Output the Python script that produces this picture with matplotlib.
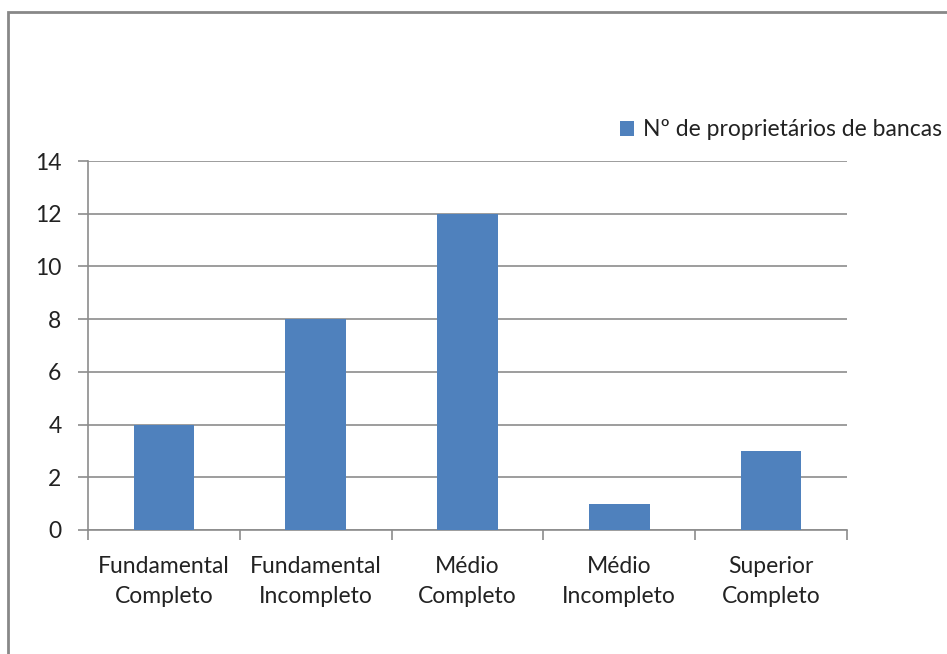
import numpy as np
import matplotlib.pyplot as plt
from matplotlib.patches import Rectangle

# --- Escolaridade dos proprietários de bancas ---

categorias = ["Fundamental\nCompleto", "Fundamental\nIncompleto", "Médio\nCompleto",
              "Médio\nIncompleto", "Superior\nCompleto"]
valores = [4, 8, 12, 1, 3]
serie = "Nº de proprietários de bancas"
y_ticks = [0, 2, 4, 6, 8, 10, 12, 14]

plt.rcParams['font.family'] = ['Lato', 'DejaVu Sans']
cinza = "#8c8c8c"
azul = "#4f81bd"
fs = 16.5

fig = plt.figure(figsize=(9.47, 6.54), dpi=100)
ax = fig.add_axes([88/947, 1 - 530/654, (847 - 88)/947, (530 - 161)/654])

x = np.arange(len(categorias))
ax.bar(x, valores, width=0.4, color=azul, label=serie, zorder=3)

ax.set_xlim(-0.5, len(categorias) - 0.5)
ax.set_ylim(0, 14)
ax.set_yticks(y_ticks)
ax.set_yticklabels([str(v) for v in y_ticks], fontsize=fs, color="#222222")
ax.set_xticks(x)
ax.set_xticklabels(categorias, fontsize=fs, linespacing=1.5, color="#222222")
ax.set_xticks(np.arange(-0.5, len(categorias)), minor=True)
ax.tick_params(axis='x', which='major', length=0, pad=19)
ax.tick_params(axis='x', which='minor', length=7, color=cinza, width=1.2)
ax.tick_params(axis='y', length=7, color=cinza, width=1.2, pad=12)

ax.grid(axis='y', color=cinza, linewidth=1.2, zorder=0)
for s in ['top', 'right']:
    ax.spines[s].set_visible(False)
for s in ['left', 'bottom']:
    ax.spines[s].set_color(cinza)
    ax.spines[s].set_linewidth(1.2)

leg = fig.legend(loc='center left', bbox_to_anchor=(611/947, 1 - 130/654), frameon=False,
                 fontsize=fs, handlelength=0.6, handleheight=0.6, handletextpad=0.4,
                 borderaxespad=0)
for t in leg.get_texts():
    t.set_color("#222222")

# moldura externa do gráfico
fig.patches.append(Rectangle((8/947, -0.1), 1.2, 1 - 12/654 + 0.1,
                             transform=fig.transFigure, fill=False,
                             edgecolor="#888888", linewidth=2))

fig.savefig("out.png", dpi=100)
